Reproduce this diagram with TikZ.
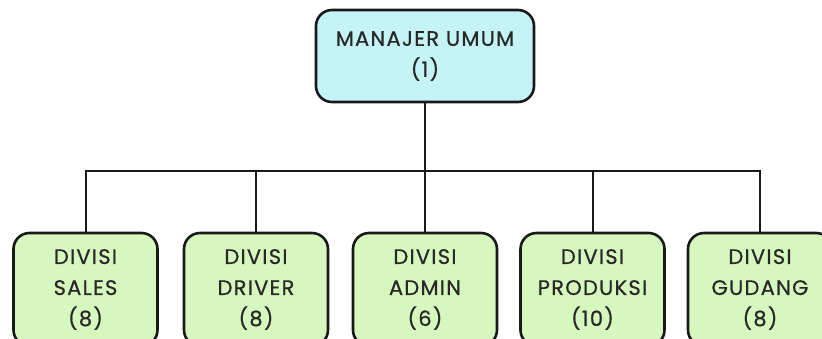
\documentclass[tikz,border=0pt]{standalone}
\usepackage{fontspec}
\setmainfont{Poppins}
\newfontfamily\lbl{Poppins}[FakeBold=0.6, LetterSpace=6]
\definecolor{topc}{RGB}{196,244,246}
\definecolor{divc}{RGB}{214,247,190}
\definecolor{txt}{RGB}{40,40,40}
\begin{document}
\begin{tikzpicture}[x=1pt,y=1pt,
  box/.style={draw=black!90, line width=2.6pt, rounded corners=16pt, align=center,
    font=\lbl\fontsize{21}{31}\selectfont, text=txt, inner sep=0pt},
  topbox/.style={box, fill=topc, minimum width=218pt, minimum height=92pt},
  divbox/.style={box, fill=divc, minimum width=144pt, minimum height=113pt},
  link/.style={line width=2pt, draw=black!90}]
\useasboundingbox (0,0) rectangle (822,-338);
\clip (0,0) rectangle (822,-338);
\node[topbox] (m) at (425,-56) {MANAJER UMUM\\(1)};
\node[divbox] (s) at (85.5,-289.5) {DIVISI\\SALES\\(8)};
\node[divbox] (d) at (256,-289.5) {DIVISI\\DRIVER\\(8)};
\node[divbox] (a) at (425,-289.5) {DIVISI\\ADMIN\\(6)};
\node[divbox] (p) at (592.5,-289.5) {DIVISI\\PRODUKSI\\(10)};
\node[divbox] (g) at (760,-289.5) {DIVISI\\GUDANG\\(8)};
\coordinate (bus) at (425,-171);
\draw[link] (m.south) -- (bus);
\draw[link] (s.north) |- (bus) -| (g.north);
\draw[link] (d.north) -- (d.north |- bus);
\draw[link] (a.north) -- (a.north |- bus);
\draw[link] (p.north) -- (p.north |- bus);
\end{tikzpicture}
\end{document}
